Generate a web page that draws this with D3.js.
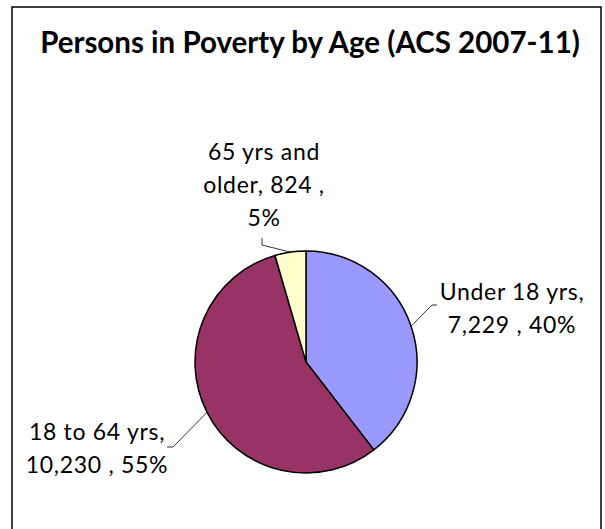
<!DOCTYPE html>
<html>
<head>
<meta charset="utf-8">
<script src="https://cdn.jsdelivr.net/npm/d3@7"></script>
<style>
  body { margin: 0; background: #fff; }
  svg { display: block; }
</style>
</head>
<body>
<svg id="chart" width="605" height="529"></svg>
<script>
// data
var categories = ["Under 18 yrs", "18 to 64 yrs", "65 yrs and older"],
    values = [7229, 10230, 824],
    valueLabels = ["7,229", "10,230", "824"],
    pctLabels = ["40%", "55%", "5%"],
    colors = ["#9999FF", "#993366", "#FFFFCC"];

var svg = d3.select("#chart"),
    width = +svg.attr("width"),
    height = +svg.attr("height"),
    cx = 306, cy = 362, r = 111;

// chart frame (bottom edge runs off the picture)
svg.append("rect")
    .attr("x", 12).attr("y", 7)
    .attr("width", 589).attr("height", 560)
    .attr("fill", "#fff")
    .attr("stroke", "#000")
    .attr("stroke-width", 1.5);

svg.append("text")
    .attr("x", 310).attr("y", 53)
    .attr("text-anchor", "middle")
    .attr("font-family", "Lato, 'Open Sans', sans-serif")
    .attr("font-weight", "bold")
    .attr("font-size", 29.5)
    .attr("fill", "#000")
    .text("Persons in Poverty by Age (ACS 2007-11)");

var pie = d3.pie().sort(null).value(function(d) { return d; });
var arcs = pie(values);

var arc = d3.arc().innerRadius(0).outerRadius(r);
var edge = d3.arc().innerRadius(r).outerRadius(r);

var g = svg.append("g").attr("transform", "translate(" + cx + "," + cy + ")");

g.selectAll("path.slice")
    .data(arcs)
    .enter().append("path")
    .attr("class", "slice")
    .attr("d", arc)
    .attr("fill", function(d, i) { return colors[i]; })
    .attr("stroke", "#000")
    .attr("stroke-width", 1.5);

// label layout: text block anchor + leader elbow, relative to centre
var layout = [
  {x: 206, y: -62, lines: 2, elbow: [[131, -57], [126, -57]]},
  {x: -209, y: 78, lines: 2, elbow: [[-139, 85], [-133, 85]]},
  {x: -42, y: -202, lines: 3, elbow: [[-44, -124], [-44, -117]]}
];

function labelLines(i) {
  if (i == 2) return ["65 yrs and", "older, " + valueLabels[i] + " ,", pctLabels[i]];
  return [categories[i] + ",", valueLabels[i] + " , " + pctLabels[i]];
}

arcs.forEach(function(d, i) {
  var L = layout[i],
      p = edge.centroid(d);
  var pts = L.elbow.concat([p]);
  g.append("path")
      .attr("d", d3.line()(pts))
      .attr("fill", "none")
      .attr("stroke", "#000")
      .attr("stroke-width", 0.8);

  var t = g.append("text")
      .attr("text-anchor", "middle")
      .attr("font-family", "Lato, 'Open Sans', sans-serif")
      .attr("font-size", 23)
      .attr("letter-spacing", 0.7)
      .attr("fill", "#000");
  labelLines(i).forEach(function(s, k) {
    t.append("tspan")
        .attr("x", L.x)
        .attr("y", L.y + k * 33)
        .text(s);
  });
});
</script>
</body>
</html>
